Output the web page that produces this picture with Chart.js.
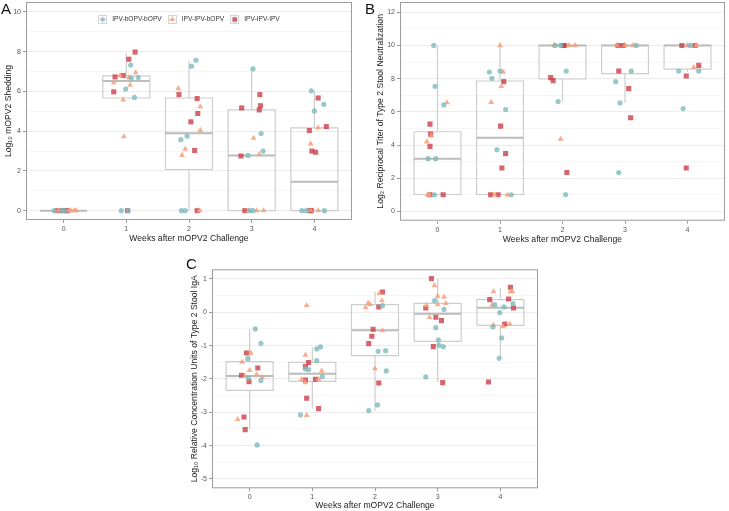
<!DOCTYPE html>
<html lang="en">
<head>
<meta charset="UTF-8" />
<title>mOPV2 challenge: shedding, neutralization, IgA</title>
<script src="https://cdn.jsdelivr.net/npm/chart.js@4.4.1/dist/chart.umd.min.js"></script>
<style>
  body { margin: 0; background: #fff; }
  .wrap { position: relative; width: 729px; height: 511px; overflow: hidden; }
  canvas { position: absolute; }
  .tag { position: absolute; font: 15px "Liberation Sans", Arial, sans-serif; color: #111; line-height: 1; }
</style>
</head>
<body>
<div class="wrap">
  <canvas id="chartA" width="356" height="248" style="left:0;top:-2px"></canvas>
  <canvas id="chartB" width="363" height="248" style="left:366px;top:-2px"></canvas>
  <canvas id="chartC" width="362" height="249" style="left:180px;top:262px"></canvas>
  <div class="tag" style="left:1px;top:1px">A</div>
  <div class="tag" style="left:365px;top:1px">B</div>
  <div class="tag" style="left:186px;top:256px">C</div>
</div>
<script>
const weeks = [0, 1, 2, 3, 4];
const groups = ["IPV-bOPV-bOPV", "IPV-IPV-bOPV", "IPV-IPV-IPV"];

// --- A: log10 mOPV2 shedding, [jittered week, value]
const shedBOPV = [[-0.15,0],[-0.03,0],[0.02,0],
  [1.07,7.33],[0.99,6.12],[1.08,6.67],[1.19,6.7],[1.13,5.7],[0.92,0],[1.03,0],
  [2.11,7.57],[2.04,7.27],[1.87,3.57],[1.97,3.75],[1.88,0],[1.94,0],
  [3.02,7.13],[3.15,3.88],[3.18,3.0],[2.94,2.78],[2.97,0],[3.02,0],
  [3.95,6.03],[4.15,5.35],[4.0,5.02],[3.8,0],[3.87,0],[4.16,0]];
const shedIIB = [[-0.08,0],[0.08,0],[0.12,0],[0.17,0],[0.2,0],
  [0.8,6.45],[1.04,6.7],[1.06,6.32],[1.15,6.95],[0.95,5.58],[0.96,3.73],[0.9,6.8],
  [1.83,6.15],[2.18,5.24],[2.18,4.05],[1.94,3.1],[1.89,2.79],[2.17,0],
  [3.03,3.65],[3.12,2.83],[2.95,0],[3.08,0],[3.19,0],
  [4.06,4.18],[3.94,3.37],[3.94,0],[4.06,0]];
const shedIII = [[-0.1,0],[-0.02,0],[0.03,0],[0.06,0],
  [1.04,7.62],[1.14,7.98],[0.82,6.73],[0.95,6.8],[0.8,5.98],[1.02,0],
  [1.84,5.84],[2.13,5.64],[2.14,4.89],[2.03,4.47],[2.09,3.03],[2.13,0],
  [3.13,5.84],[3.14,5.28],[3.12,5.07],[2.84,5.17],[2.83,2.75],[2.89,0],
  [4.06,5.67],[4.19,4.23],[3.92,4.03],[3.96,3.0],[4.02,2.94],[3.93,0],[3.95,0]];
const shedLo  = [0, 5.67, 0, 0, 0];
const shedQ1  = [0, 5.67, 2.07, 0, 0];
const shedMed = [0, 6.53, 3.9, 2.78, 1.45];
const shedQ3  = [0, 6.78, 5.67, 5.07, 4.17];
const shedHi  = [0, 7.95, 7.53, 7.15, 6.03];
const shedTicks = [0, 2, 4, 6, 8, 10];

// --- B: log2 reciprocal titer, stool neutralization
const neutBOPV = [[-0.06,10],[-0.04,7.54],[0.1,6.42],[-0.15,3.18],[-0.03,3.18],[-0.05,1],
  [0.83,8.4],[1.0,8.46],[0.87,8.02],[1.09,6.14],[0.95,3.72],[1.18,1],
  [2.06,8.46],[1.93,6.62],[2.05,1.02],[1.88,10],[1.97,10],
  [3.1,8.46],[2.85,7.82],[2.92,6.54],[2.9,2.34],[3.18,10],
  [3.86,8.46],[4.18,8.46],[3.93,6.2],[4.04,10]];
const neutIIB = [[0.15,6.56],[-0.17,4.2],[-0.1,4.56],[-0.16,1],[-0.13,1],
  [1.0,10],[1.05,8.4],[1.02,7.54],[0.86,6.58],[0.91,1],[1.12,1],
  [1.97,4.36],[1.87,10],[2.1,10],[2.2,10],
  [2.87,10],[3.13,10],[3.0,10],
  [4.1,8.68],[4.0,10],[4.14,10]];
const neutIII = [[-0.12,5.26],[-0.11,4.66],[-0.12,3.92],[0.09,1],[-0.12,1],
  [1.06,7.82],[1.01,5.14],[1.09,3.48],[1.03,2.62],[0.85,1],[0.97,1],
  [1.81,8.06],[1.85,7.88],[2.07,2.34],[2.01,10],[2.03,10],
  [2.9,8.46],[3.06,7.4],[3.09,5.64],[2.89,10],[2.97,10],
  [3.98,8.16],[4.18,8.8],[3.98,2.62],[3.91,10],[4.12,10]];
const neutLo  = [1, 1, 6.62, 6.54, 8.4];
const neutQ1  = [1.02, 1.02, 7.98, 8.3, 8.58];
const neutMed = [3.18, 4.44, 10, 10, 10];
const neutQ3  = [4.8, 7.86, 10, 10, 10];
const neutHi  = [10, 10, 10, 10, 10];
const neutTicks = [0, 2, 4, 6, 8, 10, 12];

// --- C: log10 relative concentration units, stool IgA
const igaBOPV = [[0.09,-0.5],[0.18,-0.93],[-0.03,-1.39],[-0.02,-1.97],[0.18,-2.05],[0.12,-3.98],
  [1.13,-1.04],[1.07,-1.1],[1.07,-1.45],[0.89,-1.7],[0.94,-1.72],[1.16,-1.93],[0.81,-3.08],
  [2.12,0.2],[2.05,-1.17],[2.17,-1.15],[2.18,-1.76],[2.04,-2.78],[1.9,-2.95],
  [2.95,0.35],[3.1,0.09],[2.97,-0.46],[3.01,-0.83],[3.02,-0.99],[3.09,-1.03],[2.81,-1.94],
  [3.91,0.23],[4.06,0.16],[4.2,0.26],[3.99,-0.01],[3.88,-0.44],[4.02,-0.77],[3.98,-1.38]];
const igaIIB = [[0.02,-1.22],[-0.12,-1.49],[0.0,-1.74],[-0.07,-1.91],[0.11,-1.87],[0.2,-1.95],[-0.19,-3.21],
  [0.91,0.21],[0.89,-1.28],[1.15,-1.76],[0.83,-2.01],[0.89,-2.11],[1.1,-2.01],[0.91,-3.09],
  [1.89,0.28],[1.85,0.14],[2.07,0.57],[2.11,0.35],[2.12,-0.55],[2.0,-1.69],[1.92,0.24],
  [2.95,0.8],[3.0,0.49],[3.1,0.46],[2.82,0.21],[3.0,0.23],[3.13,0.27],[2.87,-0.15],
  [3.89,0.62],[3.87,0.22],[4.16,0.62],[4.19,0.62],[3.89,-0.38],[4.04,-0.43],[4.15,-0.35]];
const igaIII = [[-0.05,-1.22],[0.13,-1.67],[-0.13,-1.89],[-0.01,-2.08],[-0.09,-3.14],[-0.07,-3.52],
  [0.94,-1.51],[0.89,-1.63],[0.89,-2.03],[1.05,-2.01],[0.91,-2.58],[1.1,-2.89],
  [2.12,0.61],[2.06,0.16],[1.97,-0.51],[1.95,-0.72],[1.9,-0.94],[2.06,-2.12],
  [2.9,1.01],[2.81,0.13],[2.97,-0.15],[3.06,-0.25],[2.93,-1.03],[3.08,-2.11],
  [3.83,0.38],[4.16,0.75],[4.13,0.4],[4.21,0.13],[4.07,-0.35],[3.81,-2.09]];
const igaLo  = [-3.51, -2.89, -2.95, -2.1, -1.38];
const igaQ1  = [-2.34, -2.07, -1.3, -0.87, -0.39];
const igaMed = [-1.91, -1.84, -0.54, -0.04, 0.14];
const igaQ3  = [-1.48, -1.5, 0.23, 0.27, 0.38];
const igaHi  = [-0.5, -1.04, 0.62, 1.0, 0.74];
const igaTicks = [-5, -4, -3, -2, -1, 0, 1];

const FONT = '"Liberation Sans", Arial, sans-serif';
const teal = "rgba(128,186,190,0.8)";
const orange = "rgba(246,160,122,0.85)";
const red = "rgba(204,62,74,0.8)";
const boxGray = "#cdcdcd";
const halfBox = 0.375;
const styles = [
  { pointStyle: "circle", pointRadius: 2.6, color: teal },
  { pointStyle: "triangle", pointRadius: 3.4, color: orange },
  { pointStyle: "rect", pointRadius: 3.6, color: red }
];

function toXY(pairs) {
  return pairs.map(p => ({ x: p[0], y: p[1] }));
}

function boxDatasets(lo, q1, med, q3, hi) {
  const rect = [], whisk = [], mid = [];
  weeks.forEach((w, i) => {
    const a = w - halfBox, b = w + halfBox;
    rect.push({x:a,y:q1[i]},{x:b,y:q1[i]},{x:b,y:q3[i]},{x:a,y:q3[i]},{x:a,y:q1[i]},{x:w,y:null});
    whisk.push({x:w,y:lo[i]},{x:w,y:q1[i]},{x:w,y:null},{x:w,y:q3[i]},{x:w,y:hi[i]},{x:w,y:null});
    mid.push({x:a,y:med[i]},{x:b,y:med[i]},{x:w,y:null});
  });
  const base = { showLine: true, pointRadius: 0, spanGaps: false, fill: false };
  return [
    { ...base, label: "median", data: mid, borderColor: "#bcbcbc", borderWidth: 2 },
    { ...base, label: "box", data: rect, borderColor: boxGray, borderWidth: 1.2 },
    { ...base, label: "whisker", data: whisk, borderColor: boxGray, borderWidth: 1.2 }
  ];
}

// panel border like ggplot's panel.border
const frame = {
  id: "frame",
  afterDraw(chart) {
    const { ctx, chartArea: c } = chart;
    ctx.save();
    ctx.strokeStyle = "#9c9c9c";
    ctx.lineWidth = 1;
    ctx.strokeRect(c.left + 0.5, c.top + 0.5, c.right - c.left - 1, c.bottom - c.top - 1);
    ctx.restore();
  }
};

// one-row legend inside the panel, with the small boxplot key of ggplot
const keyLegend = {
  id: "keyLegend",
  afterDraw(chart) {
    const { ctx, chartArea: c } = chart;
    const keyW = 8, gapKT = 6, gapItems = 6;
    ctx.save();
    ctx.font = "6.6px " + FONT;
    const widths = groups.map(g => ctx.measureText(g).width);
    const total = widths.reduce((s, w) => s + keyW + gapKT + w, 0) + gapItems * (groups.length - 1);
    let x = (c.left + c.right) / 2 - total / 2;
    const y = c.top + 17;
    groups.forEach((g, i) => {
      const cx = x + keyW / 2;
      ctx.strokeStyle = "#d4d4d4";
      ctx.lineWidth = 1;
      ctx.strokeRect(Math.round(x) + 0.5, Math.round(y - 4) + 0.5, keyW, keyW);
      ctx.beginPath();
      ctx.moveTo(x + 1.5, y + 0.5);
      ctx.lineTo(x + keyW - 0.5, y + 0.5);
      ctx.moveTo(cx + 0.5, y - 4);
      ctx.lineTo(cx + 0.5, y - 2);
      ctx.moveTo(cx + 0.5, y + 3);
      ctx.lineTo(cx + 0.5, y + 5);
      ctx.stroke();
      ctx.fillStyle = styles[i].color;
      Chart.helpers.drawPoint(ctx, { pointStyle: styles[i].pointStyle, radius: styles[i].pointRadius * 0.9,
        rotation: 0, borderWidth: 0 }, cx + 0.5, y + 0.5);
      ctx.fillStyle = "#333";
      ctx.textBaseline = "middle";
      ctx.fillText(g, x + keyW + gapKT, y + 0.5);
      x += keyW + gapKT + widths[i] + gapItems;
    });
    ctx.restore();
  }
};

function makePanel(id, p) {
  const majors = p.ticks;
  const all = [];
  majors.forEach((v, i) => {
    all.push(v);
    if (i < majors.length - 1) all.push((v + majors[i + 1]) / 2);
  });
  const isMajor = v => majors.includes(v);
  new Chart(document.getElementById(id), {
    type: "scatter",
    data: {
      datasets: [
        ...p.series.map((s, i) => ({
          label: groups[i], data: toXY(s), pointStyle: styles[i].pointStyle,
          pointRadius: styles[i].pointRadius, backgroundColor: styles[i].color,
          borderColor: styles[i].color, borderWidth: 0
        })),
        ...boxDatasets(...p.box)
      ]
    },
    options: {
      responsive: false,
      animation: false,
      events: [],
      layout: { padding: p.pad },
      plugins: { tooltip: { enabled: false }, legend: { display: false } },
      scales: {
        x: {
          type: "linear", min: -0.6, max: 4.6,
          afterBuildTicks: s => { s.ticks = weeks.map(v => ({ value: v })); },
          afterFit: s => { s.height = p.xh; s.paddingLeft = 0; s.paddingRight = 0; },
          border: { display: false },
          grid: { drawOnChartArea: false, tickLength: 3, tickColor: "#9c9c9c" },
          ticks: { color: "#555", font: { family: FONT, size: 7 }, padding: 2 },
          title: { display: true, text: "Weeks after mOPV2 Challenge", color: "#222",
                   font: { family: FONT, size: 8.6 }, padding: 0 }
        },
        y: {
          min: p.ymin, max: p.ymax,
          afterBuildTicks: s => { s.ticks = all.map(v => ({ value: v })); },
          afterFit: s => { s.width = p.yw; s.paddingTop = 0; s.paddingBottom = 0; },
          border: { display: false },
          grid: {
            color: c => isMajor(c.tick.value) ? "#ececec" : "#f6f6f6",
            tickColor: c => isMajor(c.tick.value) ? "#9c9c9c" : "rgba(0,0,0,0)",
            tickLength: 3
          },
          ticks: { color: "#555", font: { family: FONT, size: 7 }, padding: 2,
                   callback: v => isMajor(v) ? String(v) : "" },
          title: { display: true, text: p.ytitle, color: "#222",
                   font: { family: FONT, size: 8.6 }, padding: { top: p.titlePad, bottom: 0 } }
        }
      }
    },
    plugins: p.legend ? [frame, keyLegend] : [frame]
  });
}

makePanel("chartA", {
  series: [shedBOPV, shedIIB, shedIII],
  box: [shedLo, shedQ1, shedMed, shedQ3, shedHi],
  ticks: shedTicks, ymin: -0.47, ymax: 10.5,
  ytitle: "Log\u2081\u2080 mOPV2 Shedding",
  pad: { left: 0, right: 3, top: 1, bottom: 2 }, yw: 26, xh: 24, titlePad: 3, legend: true
});
makePanel("chartB", {
  series: [neutBOPV, neutIIB, neutIII],
  box: [neutLo, neutQ1, neutMed, neutQ3, neutHi],
  ticks: neutTicks, ymin: -0.56, ymax: 12.62,
  ytitle: "Log\u2082 Reciprocal Titer of Type 2 Stool Neutralization",
  pad: { left: 0, right: 2, top: 1, bottom: 1.3 }, yw: 34, xh: 24, titlePad: 9
});
makePanel("chartC", {
  series: [igaBOPV, igaIIB, igaIII],
  box: [igaLo, igaQ1, igaMed, igaQ3, igaHi],
  ticks: igaTicks, ymin: -5.28, ymax: 1.29,
  ytitle: "Log\u2081\u2080 Relative Concentration Units of Type 2 Stool IgA",
  pad: { left: 0, right: 2.7, top: 7.3, bottom: 0.7 }, yw: 32, xh: 22, titlePad: 9
});
</script>
</body>
</html>
